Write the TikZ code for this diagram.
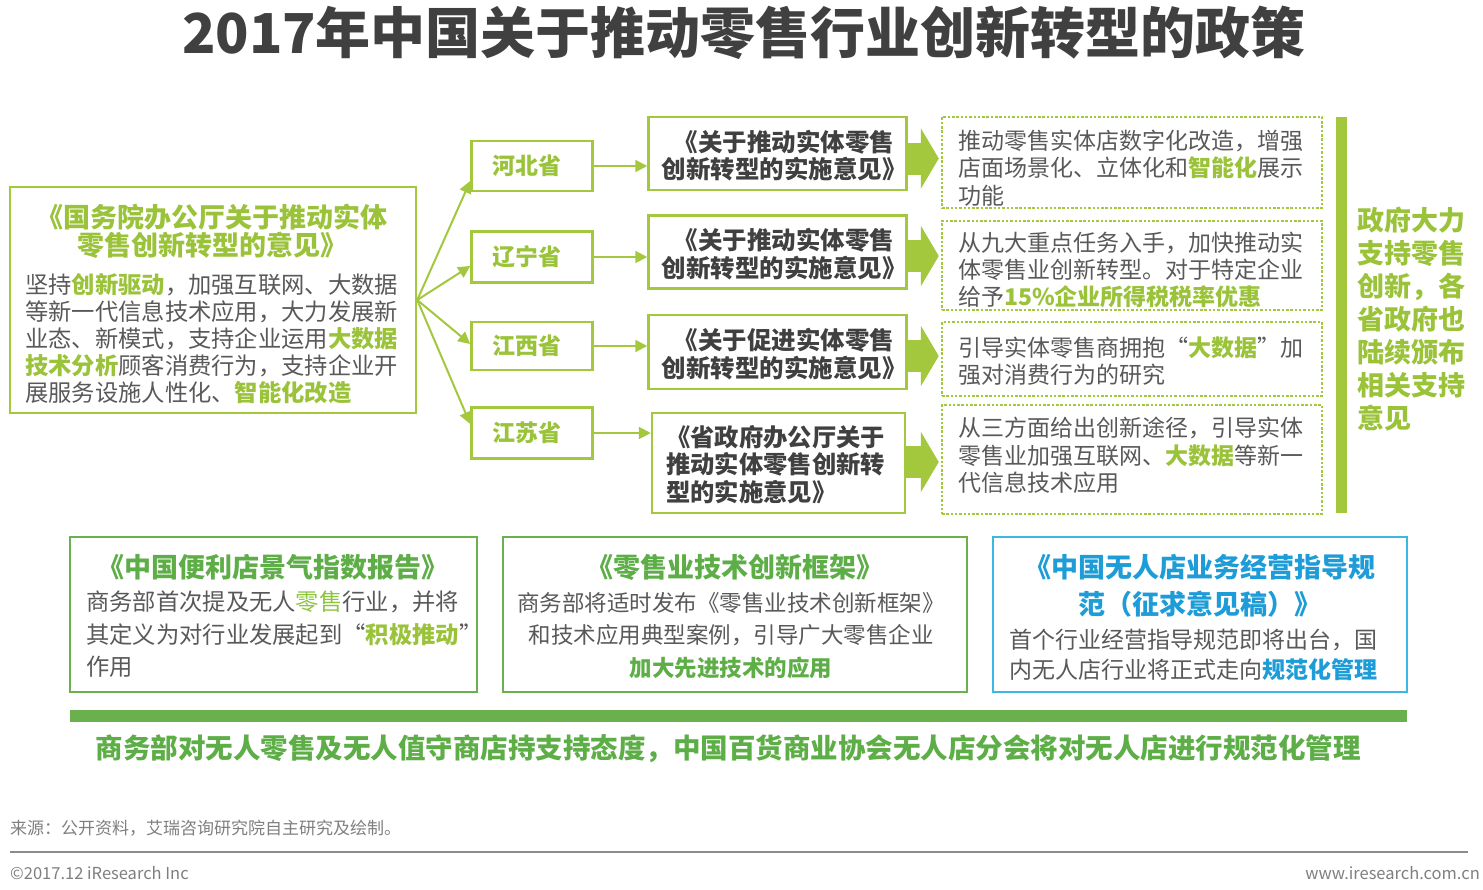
\documentclass[tikz,border=0pt]{standalone}
\usepackage{fontspec}
\setmainfont{Noto Sans CJK SC}
\usetikzlibrary{arrows.meta,calc}
\definecolor{yg}{HTML}{A3C83E}
\definecolor{ygtext}{HTML}{9AC33A}
\definecolor{lgreen}{HTML}{8CC63F}
\definecolor{dg}{HTML}{6AB04C}
\definecolor{dgtext}{HTML}{5EAE48}
\definecolor{gtext}{HTML}{595959}
\definecolor{dtext}{HTML}{404040}
\definecolor{btext}{HTML}{1E9CD7}
\definecolor{bline}{HTML}{3DB7E4}
\definecolor{foot}{HTML}{7F7F7F}
\newcommand\fs[2]{\fontsize{#1pt}{#2pt}\selectfont}
\newcommand\hy[1]{{\bfseries\color{ygtext}#1}}
\tikzset{
  box/.style={draw=yg, line width=2.5pt, inner sep=0pt},
  pbox/.style={box, minimum width=121pt, text=ygtext, font=\fs{23}{27}\bfseries},
  polbox/.style={box, minimum width=258pt},
  poltext/.style={inner sep=0pt, text=dtext, font=\fs{24.5}{27.5}\bfseries, align=center},
  dotbox/.style={draw=yg, line width=2.5pt, dash pattern=on 2.5pt off 1.8pt, minimum width=380pt, inner sep=0pt},
  dottext/.style={anchor=west, inner sep=0pt, text=gtext, font=\fs{23}{27.3}, align=left},
  thin/.style={draw=yg, line width=2pt, -{Triangle[length=12pt,width=12pt]}},
  fat/.style={draw=yg, line width=32pt, shorten >=2pt, -{Triangle[length=18pt,width=60pt]}},
  btext/.style={inner sep=0pt, text=gtext}
}
\begin{document}
\begin{tikzpicture}[x=1pt,y=-1pt]
\fill[white] (0,0) rectangle (1483,889);
\useasboundingbox (0,0) rectangle (1483,889);

% title
\node[inner sep=0pt, font=\fs{55}{60}\bfseries, text=dtext] (title) at (744,33) {2017年中国关于推动零售行业创新转型的政策};

% left box
\node[box, minimum width=406pt, minimum height=226pt] (L) at (213,300) {};
\node[inner sep=0pt, font=\fs{27}{28}\bfseries, text=ygtext, align=center] (Lt) at (212,231) {《国务院办公厅关于推动实体\\零售创新转型的意见》};
\node[btext, anchor=west, font=\fs{23.3}{27}, align=left] (Lb) at (25,339) {坚持\hy{创新驱动}，加强互联网、大数据\\等新一代信息技术应用，大力发展新\\业态、新模式，支持企业运用\hy{大数据}\\\hy{技术分析}顾客消费行为，支持企业开\\展服务设施人性化、\hy{智能化改造}};

% provinces
\node[pbox, minimum height=50pt] (hb) at (532,166) {\hspace*{-10pt}河北省};
\node[pbox, minimum height=51pt] (ln) at (532,257) {\hspace*{-10pt}辽宁省};
\node[pbox, minimum height=48pt] (jx) at (532,346) {\hspace*{-10pt}江西省};
\node[pbox, minimum height=51pt] (js) at (532,433) {\hspace*{-10pt}江苏省};

\draw[thin] (L.east) -- ([yshift=-15pt]hb.west);
\draw[thin] (L.east) -- ([yshift=-9pt]ln.west);
\draw[thin] (L.east) -- ([yshift=2pt]jx.west);
\draw[thin] (L.east) -- ([yshift=9pt]js.west);

% policy boxes
\node[polbox, minimum height=73pt] (p1) at (777.5,153.5) {};
\node[polbox, minimum height=73pt] (p2) at (777.5,252) {};
\node[polbox, minimum height=74pt] (p3) at (777.5,352) {};
\node[polbox, minimum width=253pt, minimum height=100pt] (p4) at (778.5,463) {};
\node[poltext] (p1t) at (784,155.5) {《关于推动实体零售\\创新转型的实施意见》};
\node[poltext] (p2t) at (784,254) {《关于推动实体零售\\创新转型的实施意见》};
\node[poltext] (p3t) at (784,354) {《关于促进实体零售\\创新转型的实施意见》};
\node[poltext, align=left, anchor=west, font=\fs{24.3}{27.5}\bfseries] (p4t) at (666,464.5) {《省政府办公厅关于\\推动实体零售创新转\\型的实施意见》};

\draw[thin] (hb.east) -- (hb.east -| p1.west);
\draw[thin] (ln.east) -- (ln.east -| p2.west);
\draw[thin] (jx.east) -- (jx.east -| p3.west);
\draw[thin] (js.east) -- (js.east -| p4.west);

% dotted boxes
\node[dotbox, minimum height=91pt] (d1) at (1132,162.5) {};
\node[dotbox, minimum height=89pt] (d2) at (1132,265.5) {};
\node[dotbox, minimum height=74pt] (d3) at (1132,359) {};
\node[dotbox, minimum height=109pt] (d4) at (1132,459.5) {};

\node[dottext] (t1) at (958,168) {推动零售实体店数字化改造，增强\\店面场景化、立体化和\hy{智能化}展示\\功能};
\node[dottext] (t2) at (958,270) {从九大重点任务入手，加快推动实\\体零售业创新转型。对于特定企业\\给予\hy{15\%企业所得税税率优惠}};
\node[dottext] (t3) at (958,361.5) {引导实体零售商拥抱“\hy{大数据}”加\\强对消费行为的研究};
\node[dottext] (t4) at (958,455.5) {从三方面给出创新途径，引导实体\\零售业加强互联网、\hy{大数据}等新一\\代信息技术应用};

\draw[fat] ([yshift=-5pt]p1.east) -- ([yshift=-5pt]p1.east -| d1.west);
\draw[fat] ([yshift=-4pt]p2.east) -- ([yshift=-4pt]p2.east -| d2.west);
\draw[fat] ([yshift=-4pt]p3.east) -- ([yshift=-4pt]p3.east -| d3.west);
\draw[fat] ([yshift=1pt]p4.east) -- ([yshift=1pt]p4.east -| d4.west);

% right vertical bar and text
\fill[yg] (1336,117) rectangle (1347,513);
\node[inner sep=0pt, anchor=west, font=\fs{27}{33}\bfseries, text=ygtext, align=left] (rt) at (1357,319) {政府大力\\支持零售\\创新，各\\省政府也\\陆续颁布\\相关支持\\意见};

% bottom boxes
\node[draw=dg, line width=2.5pt, minimum width=407pt, minimum height=155pt, inner sep=0pt] (bA) at (273.5,614.5) {};
\node[draw=dg, line width=2.5pt, minimum width=464pt, minimum height=155pt, inner sep=0pt] (bB) at (735,614.5) {};
\node[draw=bline, line width=2.5pt, minimum width=414pt, minimum height=155pt, inner sep=0pt] (bC) at (1200,614.5) {};

\node[inner sep=0pt, font=\fs{27}{30}\bfseries, text=dgtext] (bAt) at (273,567) {《中国便利店景气指数报告》};
\node[btext, anchor=west, font=\fs{23.3}{32.5}, align=left] (bAb) at (86,634.5) {商务部首次提及无人{\color{lgreen}零售}行业，并将\\其定义为对行业发展起到“\hy{积极推动}”\\作用};

\node[inner sep=0pt, font=\fs{27}{30}\bfseries, text=dgtext] (bBt) at (735,567) {《零售业技术创新框架》};
\node[btext, font=\fs{22.5}{32.5}, align=center] (bBb) at (731,635.5) {商务部将适时发布《零售业技术创新框架》\\和技术应用典型案例，引导广大零售企业\\{\bfseries\color{dgtext}加大先进技术的应用}};

\node[inner sep=0pt, font=\fs{27}{37}\bfseries, text=btext, align=center] (bCt) at (1200,585.5) {《中国无人店业务经营指导规\\范（征求意见稿）》};
\node[btext, anchor=west, font=\fs{23}{30}, align=left] (bCb) at (1009,655) {首个行业经营指导规范即将出台，国\\内无人店行业将正式走向{\bfseries\color{btext}规范化管理}};

% bottom bar and statement
\fill[dg] (70,710) rectangle (1407,722);
\node[inner sep=0pt, font=\fs{27.5}{30}\bfseries, text=dgtext] (stmt) at (728,749) {商务部对无人零售及无人值守商店持支持态度，中国百货商业协会无人店分会将对无人店进行规范化管理};

% footer
\node[inner sep=0pt, anchor=west, font=\fs{17}{20}, text=foot] (src) at (10,828) {来源：公开资料，艾瑞咨询研究院自主研究及绘制。};
\draw[draw=foot!90, line width=2pt] (10,852) -- (1468,852);
\node[inner sep=0pt, anchor=west, font=\fs{16.5}{20}, text=foot] (copy) at (10,873) {©2017.12 iResearch Inc};
\node[inner sep=0pt, anchor=east, font=\fs{16.5}{20}, text=foot] (www) at (1480,873) {www.iresearch.com.cn};
\end{tikzpicture}
\end{document}
